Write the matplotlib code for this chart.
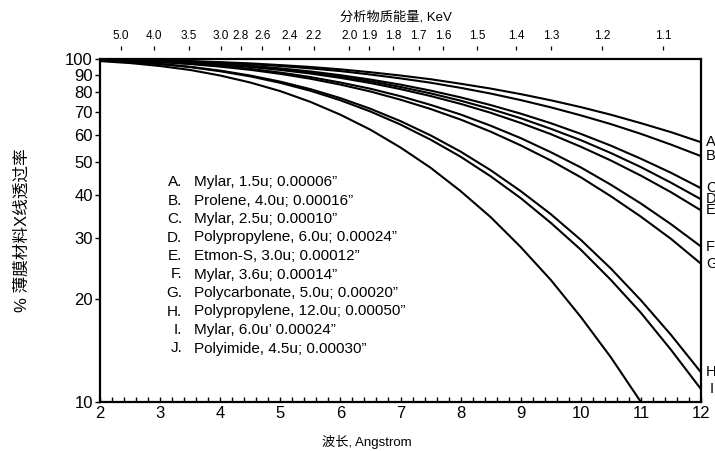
import matplotlib
matplotlib.use("Agg")
import matplotlib.pyplot as plt
from matplotlib.ticker import FixedLocator, FixedFormatter, MultipleLocator, NullLocator

plt.rcParams['font.family'] = ['Liberation Sans', 'Noto Sans CJK SC', 'DejaVu Sans']

# ---------------- data ----------------
wavelength = [2.0, 2.5, 3.0, 3.5, 4.0, 4.5, 5.0, 5.5, 6.0, 6.5, 7.0,
              7.5, 8.0, 8.5, 9.0, 9.5, 10.0, 10.5, 11.0, 11.5, 12.0]

film_A = [99.7, 99.5, 99.1, 98.6, 97.9, 97.1, 96.0, 94.8, 93.3, 91.5, 89.5,
          87.3, 84.7, 82.0, 79.0, 75.8, 72.4, 68.8, 65.0, 61.2, 57.2]
film_B = [99.7, 99.4, 99.0, 98.4, 97.6, 96.6, 95.4, 93.9, 92.2, 90.1, 87.8,
          85.3, 82.4, 79.3, 75.9, 72.3, 68.5, 64.6, 60.5, 56.3, 52.1]
film_C = [99.6, 99.2, 98.7, 97.9, 96.8, 95.5, 93.9, 92.0, 89.7, 87.1, 84.2,
          80.9, 77.3, 73.4, 69.3, 65.0, 60.5, 55.9, 51.2, 46.6, 42.0]
film_D = [99.6, 99.2, 98.5, 97.7, 96.6, 95.2, 93.4, 91.3, 88.9, 86.1, 82.9,
          79.4, 75.6, 71.5, 67.2, 62.6, 58.0, 53.2, 48.4, 43.6, 39.0]
film_E = [99.5, 99.1, 98.4, 97.5, 96.3, 94.8, 92.9, 90.7, 88.1, 85.1, 81.7,
          78.0, 74.0, 69.7, 65.1, 60.4, 55.5, 50.6, 45.7, 40.9, 36.2]
film_F = [99.4, 98.9, 98.1, 96.9, 95.4, 93.6, 91.3, 88.6, 85.4, 81.9, 77.9,
          73.5, 68.9, 63.9, 58.8, 53.5, 48.3, 43.0, 37.9, 33.0, 28.4]
film_G = [99.4, 98.8, 97.9, 96.7, 95.0, 93.0, 90.5, 87.6, 84.2, 80.4, 76.1,
          71.5, 66.6, 61.4, 56.0, 50.6, 45.2, 39.8, 34.7, 29.9, 25.3]
film_H = [99.0, 98.1, 96.8, 94.9, 92.5, 89.5, 85.9, 81.7, 76.9, 71.6, 65.9,
          59.9, 53.7, 47.4, 41.2, 35.3, 29.7, 24.5, 19.8, 15.7, 12.2]
film_I = [99.0, 98.0, 96.6, 94.7, 92.1, 89.0, 85.2, 80.8, 75.8, 70.3, 64.4,
          58.2, 51.9, 45.5, 39.3, 33.3, 27.8, 22.7, 18.2, 14.2, 10.9]
film_J = [98.6, 97.3, 95.4, 92.9, 89.5, 85.4, 80.6, 75.0, 68.8, 62.2, 55.2,
          48.2, 41.2, 34.6, 28.3, 22.7, 17.7, 13.5, 10.0]

curve_letters = ['A', 'B', 'C', 'D', 'E', 'F', 'G', 'H', 'I', 'J']
curves = [film_A, film_B, film_C, film_D, film_E, film_F, film_G, film_H, film_I, film_J]

legend_letters = ['A.', 'B.', 'C.', 'D.', 'E.', 'F.', 'G.', 'H.', 'I.', 'J.']
legend_texts = [
    'Mylar, 1.5u; 0.00006\u201d',
    'Prolene, 4.0u; 0.00016\u201d',
    'Mylar, 2.5u; 0.00010\u201d',
    'Polypropylene, 6.0u; 0.00024\u201d',
    'Etmon-S, 3.0u; 0.00012\u201d',
    'Mylar, 3.6u; 0.00014\u201d',
    'Polycarbonate, 5.0u; 0.00020\u201d',
    'Polypropylene, 12.0u; 0.00050\u201d',
    'Mylar, 6.0u\u2019 0.00024\u201d',
    'Polyimide, 4.5u; 0.00030\u201d',
]

x_ticks = [2, 3, 4, 5, 6, 7, 8, 9, 10, 11, 12]
y_ticks = [10, 20, 30, 40, 50, 60, 70, 80, 90, 100]

# top axis: energy labels and the wavelength where each stands in the picture
energy_labels = ['5.0', '4.0', '3.5', '3.0', '2.8', '2.6', '2.4', '2.2', '2.0', '1.9',
                 '1.8', '1.7', '1.6', '1.5', '1.4', '1.3', '1.2', '1.1']
energy_tick_wavelengths = [2.35, 2.90, 3.48, 4.01, 4.34, 4.70, 5.15, 5.56, 6.15, 6.48,
                           6.88, 7.30, 7.71, 8.28, 8.93, 9.51, 10.36, 11.37]

# ---------------- figure ----------------
W, H = 715, 451
fig = plt.figure(figsize=(W / 100, H / 100), dpi=100)
ax_l, ax_r, ax_t, ax_b = 100, 701, 59, 402
ax = fig.add_axes([ax_l / W, 1 - ax_b / H, (ax_r - ax_l) / W, (ax_b - ax_t) / H])

for vals in curves:
    ax.plot(wavelength[:len(vals)], vals, color='black', lw=1.5,
            solid_joinstyle='round', solid_capstyle='butt')

ax.set_yscale('log')
ax.set_xlim(2, 12)
ax.set_ylim(10, 100)

ax.yaxis.set_major_locator(FixedLocator(y_ticks))
ax.yaxis.set_major_formatter(FixedFormatter([str(v) for v in y_ticks]))
ax.yaxis.set_minor_locator(NullLocator())
ax.xaxis.set_major_locator(FixedLocator(x_ticks))
ax.xaxis.set_major_formatter(FixedFormatter([str(v) for v in x_ticks]))
ax.xaxis.set_minor_locator(MultipleLocator(0.2))

ax.tick_params(axis='x', which='both', direction='in', length=3.4, width=1.0,
               labelsize=12, pad=3, top=False)
ax.tick_params(axis='y', which='major', direction='out', length=3.6, width=1.0,
               labelsize=12, pad=1.5, right=False)

for sp in ax.spines.values():
    sp.set_linewidth(1.6)
    sp.set_color('black')

# top energy axis
ax2 = ax.twiny()
ax2.set_xlim(2, 12)
ax2.xaxis.set_major_locator(FixedLocator(energy_tick_wavelengths))
ax2.xaxis.set_major_formatter(FixedFormatter(energy_labels))
ax2.xaxis.set_minor_locator(NullLocator())
for sp in ax2.spines.values():
    sp.set_visible(False)
ax2.spines['top'].set_position(('outward', 6.5))
ax2.tick_params(axis='x', direction='out', length=3, width=0.9, labelsize=8.5, pad=2.5)

# right-hand curve letters
for letter, vals in zip(curve_letters[:9], curves[:9]):
    dx = 6.5 if letter == 'I' else 3.5
    ax.annotate(letter, xy=(wavelength[len(vals) - 1], vals[-1]), xytext=(dx, 0),
                textcoords='offset points', ha='left', va='center', fontsize=10.5,
                annotation_clip=False)

# legend text block
y0 = (ax_b - 182) / (ax_b - ax_t)
dy = 18.5 / (ax_b - ax_t)
for i, (lt, tx) in enumerate(zip(legend_letters, legend_texts)):
    yy = y0 - i * dy
    ax.text((182 - ax_l) / (ax_r - ax_l), yy, lt, transform=ax.transAxes,
            ha='right', va='center', fontsize=11)
    ax.text((194 - ax_l) / (ax_r - ax_l), yy, tx, transform=ax.transAxes,
            ha='left', va='center', fontsize=11)

# axis titles
fig.text(396 / W, 1 - 17 / H, '分析物质能量, KeV', ha='center', va='center', fontsize=9.5)
fig.text(367 / W, 1 - 442 / H, '波长, Angstrom', ha='center', va='center', fontsize=9.5)
fig.text(22 / W, 1 - 230.5 / H, '% 薄膜材料X线透过率', rotation=90,
         ha='center', va='center', fontsize=12)

fig.savefig('out.png', dpi=100)
